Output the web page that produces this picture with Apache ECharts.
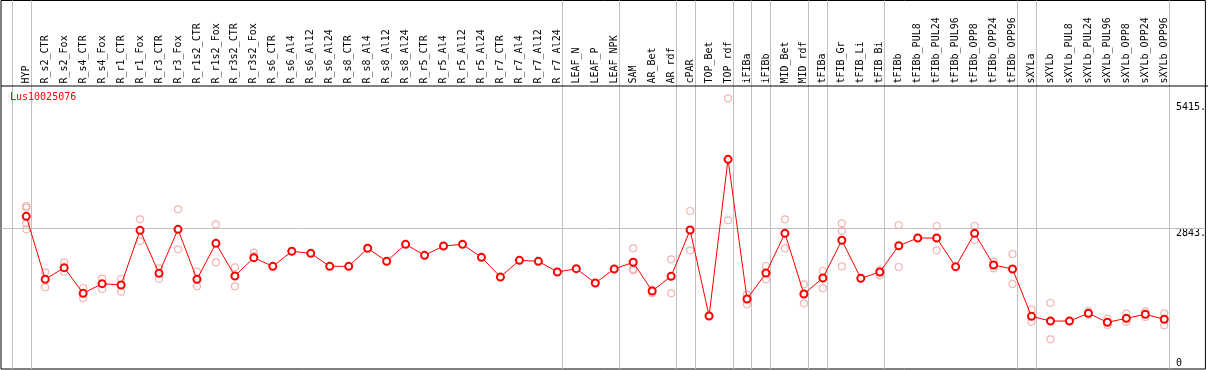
<!DOCTYPE html>
<html>
<head>
<meta charset="utf-8">
<script src="https://cdn.jsdelivr.net/npm/echarts@6/dist/echarts.min.js"></script>
<style>html,body{margin:0;padding:0;background:#fff;}#c{width:1209px;height:370px;}</style>
</head>
<body>
<div id="c"></div>
<script>
var categories = ['HYP','R_s2_CTR','R_s2_Fox','R_s4_CTR','R_s4_Fox','R_r1_CTR','R_r1_Fox','R_r3_CTR','R_r3_Fox','R_r1s2_CTR','R_r1s2_Fox','R_r3s2_CTR','R_r3s2_Fox','R_s6_CTR','R_s6_Al4','R_s6_Al12','R_s6_Al24','R_s8_CTR','R_s8_Al4','R_s8_Al12','R_s8_Al24','R_r5_CTR','R_r5_Al4','R_r5_Al12','R_r5_Al24','R_r7_CTR','R_r7_Al4','R_r7_Al12','R_r7_Al24','LEAF_N','LEAF_P','LEAF_NPK','SAM','AR_Bet','AR_rdf','cPAR','TOP_Bet','TOP_rdf','iFIBa','iFIBb','MID_Bet','MID_rdf','tFIBa','tFIB_Gr','tFIB_Li','tFIB_Bi','tFIBb','tFIBb_PUL8','tFIBb_PUL24','tFIBb_PUL96','tFIBb_OPP8','tFIBb_OPP24','tFIBb_OPP96','sXYLa','sXYLb','sXYLb_PUL8','sXYLb_PUL24','sXYLb_PUL96','sXYLb_OPP8','sXYLb_OPP24','sXYLb_OPP96'];

var meanValues = [3087,1805,2042,1520,1716,1689,2802,1927,2822,1805,2537,1872,2245,2069,2375,2334,2069,2069,2436,2171,2517,2293,2483,2517,2252,1852,2191,2171,1954,2021,1730,2015,2151,1567,1866,2808,1058,4247,1404,1933,2741,1506,1832,2599,1825,1954,2489,2645,2645,2062,2741,2096,2015,1052,956,956,1113,930,1011,1093,991];

var replicateValues = [
  [3297,3262,2945,2823],[1947,1642],[2151,1960],[1628,1424],[1817,1608],[1811,1553],[3026,2584],[2029,1817],[3229,2415],[1960,1662],[2924,2151],[2049,1662],[2347,2279],
  [],[],[],[],[],[],[],[],[],[],[],[],[],[],[],[],[],[],[],
  [2436,2015,1988],[1590,1520],[2212,1520],[3195,2395],[],[5488,3006],[1492,1296],[2076,1805],[3026,2436],[1703,1316],[1974,1622],[2945,2788,2069],[1835],[1994,1886],
  [2910,2055],[],[2890,2395],[],[2890,2605],[2164,2029],[2320,1709],
  [1187,942],[1323,584],[],[1160,1080],[1004,875],[1105,942],[1154,1038],[1113,868]
];

// index of last category in each group (separator drawn just after it)
var groupEnds = [-1,0,28,31,34,35,37,38,39,41,42,45,52,53,60];

var yTickValues = [0, 2843, 5415];
var yTickLabels = ['0', '2843.', '5415.'];
var seriesName = 'Lus10025076';

var FONT = 'DejaVu Sans Mono';
var mainData = meanValues.map(function(v,i){return [i,v];});
var repData = [];
replicateValues.forEach(function(arr,i){arr.forEach(function(v){repData.push([i,v]);});});
var labelIdx = categories.map(function(c,i){return i;});

var sepLines = groupEnds.map(function(g){return {xAxis: g + 0.25};});
sepLines.push({yAxis: yTickValues[1]});

var chart = echarts.init(document.getElementById('c'), null, {renderer:'canvas'});
chart.setOption({
  animation: false,
  backgroundColor: '#fff',
  title: {
    text: seriesName, left: 10, top: 92, padding: 0,
    textStyle: {color: '#ff0000', fontFamily: FONT, fontSize: 10, fontWeight: 'normal'}
  },
  grid: {left: 1, top: 0.5, width: 1206.5, height: 368.5, show: true, borderColor: '#000', borderWidth: 1, backgroundColor: 'transparent'},
  xAxis: [{
    type: 'value', position: 'top', offset: -86,
    min: -1.3316, max: 62.168,
    axisLine: {show: false}, axisTick: {show: false}, splitLine: {show: false},
    axisLabel: {
      customValues: labelIdx, rotate: 90, margin: 3,
      fontFamily: FONT, fontSize: 10, color: '#000',
      formatter: function(v){ return categories[Math.round(v)] || ''; }
    }
  }],
  yAxis: [{
    type: 'value', position: 'right', min: -20.35, max: 7479,
    axisLine: {show: false}, axisTick: {show: false}, splitLine: {show: false},
    axisLabel: {
      inside: true, customValues: [yTickValues[1], yTickValues[2]], align: 'left', verticalAlign: 'top', margin: 29.5,
      fontFamily: FONT, fontSize: 10, color: '#000',
      formatter: function(v){ return yTickLabels[yTickValues.indexOf(v)]; }
    }
  },{
    type: 'value', position: 'right', min: -20.35, max: 7479,
    axisLine: {show: false}, axisTick: {show: false}, splitLine: {show: false},
    axisLabel: {
      inside: true, customValues: [yTickValues[0]], align: 'left', verticalAlign: 'bottom', margin: 29.5,
      fontFamily: FONT, fontSize: 10, color: '#000',
      formatter: function(v){ return yTickLabels[yTickValues.indexOf(v)]; }
    }
  }],
  series: [{
    type: 'scatter', name: 'replicates', data: repData, z: 2,
    symbol: 'circle', symbolSize: 7,
    itemStyle: {color: 'rgba(0,0,0,0)', borderColor: '#f0a0a0', borderWidth: 1.2},
    markLine: {
      silent: true, symbol: ['none','none'], z: 1,
      label: {show: false},
      lineStyle: {color: '#c0c0c0', width: 1, type: 'solid'},
      data: sepLines
    }
  },{
    type: 'line', name: seriesName, data: mainData, z: 3,
    symbol: 'emptyCircle', symbolSize: 7,
    lineStyle: {color: '#ff0000', width: 1},
    itemStyle: {color: '#ff0000', borderWidth: 1.3}
  }],
  graphic: [{
    type: 'line', z: 100, silent: true,
    shape: {x1: 1, y1: 86, x2: 1208, y2: 86},
    style: {stroke: '#000', lineWidth: 1}
  }]
});
</script>
</body>
</html>
